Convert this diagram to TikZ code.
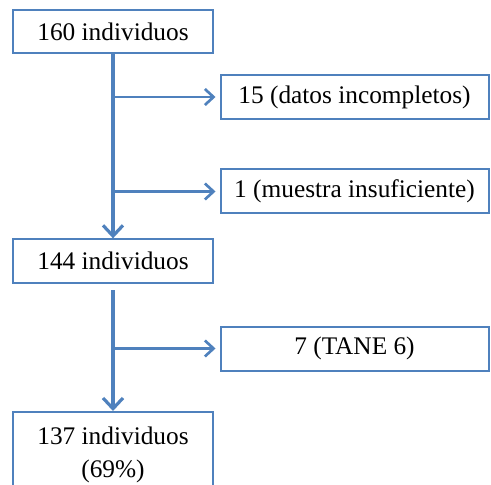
\documentclass[tikz,border=0pt]{standalone}
\usepackage{fontspec}
\setmainfont{Liberation Serif}
\usetikzlibrary{arrows.meta}

\definecolor{flowblue}{RGB}{79,129,189}
\tikzset{every picture/.style={line width=0.75pt}}
\tikzset{
  countbox/.style={draw=flowblue, line width=1.5pt, fill=white, minimum width=150pt, minimum height=32.5pt, inner sep=0.75pt, font=\fontsize{19}{25}\selectfont},
  lossbox/.style={countbox, minimum width=201pt, minimum height=33pt},
  flowline/.style={draw=flowblue, line width=3pt, -{Straight Barb[length=8pt,width=15pt,line width=2.4pt]}},
  sideline/.style={draw=flowblue, line width=2.2pt, -{Straight Barb[length=6.5pt,width=12pt,line width=2pt]}}
}

\begin{document}
\begin{tikzpicture}[x=0.75pt,y=0.75pt,yscale=-1,xscale=1]
\clip (0,0) rectangle (491,484);

% Text Node
\node [countbox] (top) at (113,31.5) {160 individuos};
% Text Node
\node [lossbox] (datos) at (354.5,97) {15 (datos incompletos)};
% Text Node
\node [lossbox] (muestra) at (354.5,191.5) {1 (muestra insuficiente)};
% Text Node
\node [countbox] (mid) at (113,261) {144 individuos};
% Text Node
\node [lossbox] (tane) at (354.5,348.5) {7 (TANE 6)};
% Text Node
\node [countbox, align=center, anchor=north, inner ysep=11pt] (final) at (113,411) {137 individuos\\(69\%)};

% branch points
\coordinate (j1) at (113,97);
\coordinate (j2) at (113,191.5);
\coordinate (j3) at (113,348.5);
\coordinate (s2) at (113,290);

%Straight Lines
\draw [flowline] (top.south) -- (mid.north) ;
\draw [flowline] (s2) -- (final.north) ;
%Straight Lines
\draw [sideline] (j1) -- ([xshift=-3pt]datos.west) ;
\draw [sideline] (j2) -- ([xshift=-3pt]muestra.west) ;
\draw [sideline] (j3) -- ([xshift=-3pt]tane.west) ;

\end{tikzpicture}
\end{document}
